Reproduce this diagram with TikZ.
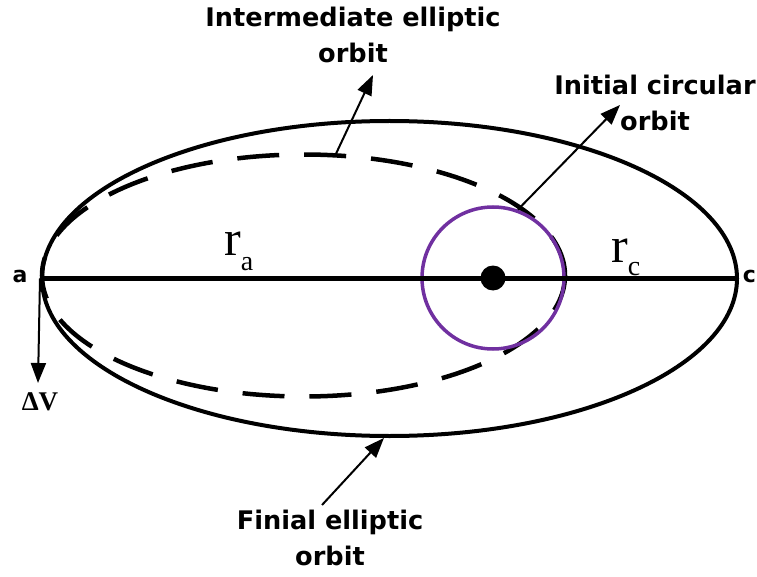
\documentclass[tikz,border=0pt]{standalone}
\usepackage{fontspec}
\usepackage{tikz}
\usetikzlibrary{arrows.meta, positioning, shapes.geometric}
\newfontfamily\orbitfont{DejaVu Sans}
\newfontfamily\timesfont{Liberation Serif}
\definecolor{viola}{RGB}{112,48,160}

\begin{document}
\begin{tikzpicture}[x=1pt, y=-1pt, >={Triangle[length=20pt,width=15pt]},
		etichetta/.style={font=\orbitfont\bfseries\fontsize{25.6}{36}\selectfont, align=center, inner sep=0pt},
		orbita/.style={draw, ellipse, inner sep=0pt},
		freccia/.style={->, line width=2pt}]
	\useasboundingbox (0,0) rectangle (757,577);
	
	% Orbite
	\node [orbita, line width=4pt, minimum width=695pt, minimum height=315pt] (esterna) at (389.5,278.5) {};
	\node [orbita, line width=4.5pt, dash pattern=on 42pt off 25pt, minimum width=523pt, minimum height=242pt] (intermedia) at (303.5,275.5) {};
	\node [draw=viola, circle, line width=3.5pt, minimum size=142pt, inner sep=0pt] (iniziale) at (493,278) {};
	
	% Asse e corpo centrale
	\draw [line width=5pt] (esterna.west) -- (esterna.east);
	\node [circle, fill, minimum size=25pt, inner sep=0pt] (centro) at (493,278) {};
	
	% Etichette
	\node [etichetta] (testoint) at (353,35) {Intermediate elliptic\\orbit};
	\node [etichetta] (testoini) at (655,103) {Initial circular\\orbit};
	\node [etichetta] (testofin) at (330,538) {Finial elliptic\\orbit};
	\node [font=\orbitfont\bfseries\fontsize{22}{22}\selectfont, anchor=base, inner sep=0pt] (a) at (20,283) {a};
	\node [font=\orbitfont\bfseries\fontsize{22}{22}\selectfont, anchor=base east, inner sep=0pt] (c) at (756,283) {c};
	\node [anchor=base west, inner sep=0pt] (ra) at (224,255) {\timesfont\fontsize{50}{50}\selectfont r\raisebox{-15pt}{\fontsize{28}{28}\selectfont a}};
	\node [anchor=base west, inner sep=0pt] (rc) at (611,262) {\timesfont\fontsize{50}{50}\selectfont r\raisebox{-13pt}{\fontsize{28}{28}\selectfont c}};
	\node [anchor=north, inner sep=0pt, font=\timesfont\bfseries\fontsize{27}{27}\selectfont] (dv) at (40,392) {ΔV};
	
	% Punte delle frecce
	\coordinate (pint) at (373,75);
	\coordinate (pini) at (620,105);
	\coordinate (pfin) at (322,505);
	\coordinate (pdv) at (38,383);
	
	% Frecce
	\draw [freccia] (intermedia.75) -- (pint);
	\draw [freccia] (iniziale.70) -- (pini);
	\draw [freccia] (pfin) -- (esterna.-92);
	\draw [freccia] (esterna.west) -- (pdv);
	
\end{tikzpicture}
\end{document}
